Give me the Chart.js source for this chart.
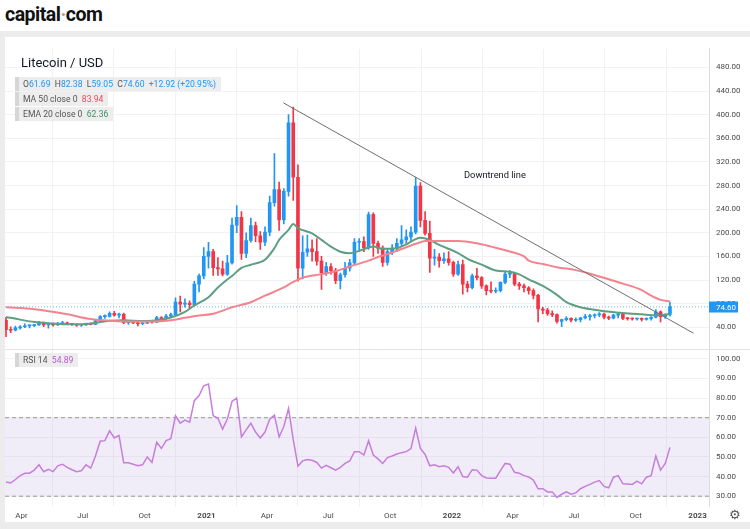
<!DOCTYPE html>
<html><head><meta charset="utf-8">
<script src="https://cdn.jsdelivr.net/npm/chart.js@4.4.1/dist/chart.umd.min.js"></script>
<style>
html,body{margin:0;padding:0;}
body{width:750px;height:529px;background:#ececec;position:relative;overflow:hidden;font-family:Roboto,"Noto Sans",sans-serif;}
#hdr{position:absolute;left:0;top:0;width:750px;height:31px;background:#fff;}
#logo{position:absolute;left:5px;top:3px;font-family:Roboto,sans-serif;font-weight:700;font-size:19.5px;color:#111;letter-spacing:-0.5px;}
#logo .d{color:#c89a6a;}
#panel{position:absolute;left:5px;top:37px;width:745px;height:485px;background:#fff;}
#panel canvas{position:absolute;left:0;top:0;}
.ov{position:absolute;white-space:nowrap;}
#title{left:21px;top:55px;font-size:13px;color:#131722;}
.row{position:absolute;left:15px;height:14px;background:rgba(236,236,236,0.92);border-left:4px solid #d6d6d6;font-size:8.6px;line-height:14px;color:#555;padding:0 5px 0 4px;white-space:nowrap;}
.b{color:#2196f3;}
#dt{left:464px;top:169px;font-size:9.3px;color:#131722;}
#gear{left:729px;top:507px;font-family:"DejaVu Sans";font-size:13px;color:#555;}
</style></head>
<body>
<div id="hdr"><div id="logo">capital<span class="d">·</span>com</div></div>
<div id="panel"><canvas id="c" width="745" height="485"></canvas></div>
<div class="ov" id="title">Litecoin / USD</div>
<div class="row" style="top:77px;">O<span class="b">61.69</span>&nbsp; H<span class="b">82.38</span>&nbsp; L<span class="b">59.05</span>&nbsp; C<span class="b">74.60</span>&nbsp; <span class="b">+12.92 (+20.95%)</span></div>
<div class="row" style="top:92px;">MA 50 close 0&nbsp; <span style="color:#ef4a5a">83.94</span></div>
<div class="row" style="top:107px;">EMA 20 close 0&nbsp; <span style="color:#3c8f69">62.36</span></div>
<div class="row" style="top:353px;">RSI 14&nbsp; <span style="color:#b55bd1">54.89</span></div>
<div class="ov" id="dt">Downtrend line</div>
<div class="ov" id="gear">⚙</div>
<script>
// ---- data (weekly candles, first week starting 2020-03-09) ----
const firstWeek = '2020-03-09';
const opens = [52,36,35,39,41,42.5,42.8,44,47.5,44,45.2,44,46.5,47.5,46,44.8,43.5,44,46.5,45,51,58,58.5,63.5,60.5,62,48,48.5,47.5,46,46.8,50,48.5,56.5,54.5,59,61.5,82.5,79,81,78.5,113,127,160,168,141,139,130,149,213,226,165,187,212,195,184,201,251,273,222,270,386,294,140,167,173,168,152,132,143,136,119,129,140,149,184,185,175,231,182,174,150,168,174,182,188,193,201,279,221,199,157,159,153,156,150,130,146,113,107,127,124,110,102,101,102,116,130,131,113,110,107,102,94,71,69,63,61.5,50,53,55,52,53,56,58,59.5,61,62.5,57,55.5,60.5,62,55,54.5,54,55,53.5,55,57,66,58,61.69];
const highs = [57,41,42,43,46,44,45,50,49,47,47,48.5,50,49,46.8,45.8,45,47,47,52,60,61,66,67,64,64,51,51,48.5,48,51,51.5,58.5,58,62,64,90,93,88,85,118,130,175,184,172,158,152,162,225,246,236,200,225,218,202,210,262,334,286,275,400,413,315,195,196,188,190,160,150,148,140,132,150,155,190,190,193,235,234,186,178,172,180,190,212,205,210,294,285,236,220,172,165,166,168,152,152,154,118,130,140,126,112,117,107,117,133,136,133,116,113,109,105,96,74,72,68,63,54,58,56,56,57,62,62,63,65,64,59,62,64,63,57,56,55.5,56,56,58,70,68,63,82.38];
const lows = [24,31,34,37,39.5,39,41,43,41,38.5,42,43,45.5,44.5,43,41.5,41.5,43,44,44.5,50,55,57,59,56,46,45,46,42.5,44.5,46,47,48,51,52.5,57,60.5,66,74,72,77,100,122,140,128,128,127,128,147,200,155,158,184,185,172,178,195,245,204,215,262,255,118,122,160,152,145,104,128,130,114,105,125,135,146,168,168,172,160,165,143,145,163,168,178,180,186,198,210,196,133,145,142,148,145,126,128,96,100,105,120,106,95,98,98,100,114,124,110,104,100,96,88,49,63,60,58,47,41,51,49,50,49,54,52,56,58,54,53,54,56,53,52,52,52,50.5,52,52,56,49,55,59.05];
const closes = [36,35,39,41,42.5,42.8,44,47.5,44,45.2,44,46.5,47.5,46,44.8,43.5,44,46.5,45,51,58,58.5,63.5,60.5,62,48,48.5,47.5,46,46.8,50,48.5,56.5,54.5,59,61.5,82.5,79,81,78.5,113,127,160,168,141,139,130,149,213,226,165,187,212,195,184,201,251,273,222,270,386,294,140,167,173,168,152,132,143,136,119,129,140,149,184,185,175,231,182,174,150,168,174,182,188,193,201,279,221,199,157,159,153,156,150,130,146,113,107,127,124,110,102,101,102,116,130,131,113,110,107,102,94,71,69,63,61.5,50,53,55,52,53,56,58,59.5,61,62.5,57,55.5,60.5,62,55,54.5,54,55,53.5,55,57,66,58,61.69,74.60];
// moving averages: [week index, value]
const ma50 = [[0,74],[6,70.5],[13,62],[18,54],[22,51],[25,50],[31,50],[35,52],[38,56],[41,60],[44,63],[48,74],[52,82.5],[55,93.5],[59,107.5],[61,117],[63,124],[67,130],[70,135],[73,143],[77,152.8],[79,159],[82,166.6],[85,175.6],[88,184],[89,186],[96,186],[100,182.2],[103,176.6],[107,168.3],[110,160],[111,152.8],[114,147.3],[117,141.7],[121,136.8],[124,130.7],[128,121.3],[131,114],[135,103],[137,93.5],[139,86.4],[141,83.94]];
const ema20 = [[0,57.6],[3,53],[6,49],[10,46.5],[13,45],[17,45.5],[19,47.6],[22,51],[25,52],[29,50.5],[31,51],[35,56.5],[38,66],[40,77],[43,91],[45,107.5],[47,121],[48,127],[50,140.6],[52,146],[55,154.5],[57,174],[58,188],[60,205],[61,215],[62,208],[65,199],[67,188],[69,176.6],[71,168],[73,165.5],[75,169.4],[77,175],[78,176.6],[80,172.8],[83,174],[85,180.5],[87,189.4],[88,191.6],[90,187.7],[92,179.4],[96,165.6],[98,156],[101,146],[104,136.2],[107,134],[109,129.6],[111,121.3],[114,110],[117,95],[119,82.5],[122,74],[126,68.6],[131,64.2],[135,62],[138,60.5],[140,61.1],[141,62.36]];
const rsi14 = [37.2,36.7,38.5,40.5,41.7,41.7,43.3,46,42.5,43.7,42.5,45.5,46.3,44.7,43.5,42.5,43,46,44.3,50.5,58,58.3,63.3,59.7,61,47,47,46.3,45.5,46,50,47.2,57.5,54.3,58.3,59.3,71,67.2,68.8,67.7,78.7,81.3,86.3,87.2,71,69.7,64.2,69.3,78.3,80,60.2,63.8,67.2,62.7,59.7,62.7,69.2,71.3,60.2,65.5,74.7,58.8,45.3,48,48.7,48.3,47.2,44.3,45.7,44.5,43.3,44.7,46.7,48,52.7,52.7,51,58.3,51,49,46.7,49.7,50.5,51.5,52.2,52.7,54.3,64.7,54.3,51.3,45.5,46,45,45.5,44.7,41.8,45,40,39.7,43.5,43.3,40.5,39.3,39.2,39.2,43,46.7,46.3,42.2,41.7,40.5,39.8,38.2,33.8,33.8,32.2,32.2,29.3,31,32.2,31,31.7,33.8,35,36,37.2,38,35,34.3,39.7,40.5,36.3,36.2,36,37.7,36.3,39.7,40.5,50.5,43.3,46.7,54.89];
// downtrend line endpoints [week index, price]
const trendLine = [[58.9,420],[146,30]];
const rsiLevels = [70,30];
const priceTicks = [40,80,120,160,200,240,280,320,360,400,440,480];
const rsiTicks = [30,40,50,60,70,80,90,100];
const tickDates = ['2020-04-01','2020-07-01','2020-10-01','2021-01-01','2021-04-01','2021-07-01','2021-10-01','2022-01-01','2022-04-01','2022-07-01','2022-10-01','2023-01-01'];
const tickLabels = ['Apr','Jul','Oct','2021','Apr','Jul','Oct','2022','Apr','Jul','Oct','2023'];

// ---- helpers ----
const WEEK = 7*86400000;
const t0 = Date.parse(firstWeek+'T00:00:00Z');
const weekPos = d => (Date.parse(d+'T00:00:00Z') - t0)/WEEK;
const tickPos = tickDates.map(weekPos);
const X_MIN = -0.212, X_MAX = 149.29;
const UP = '#2196f3', DOWN = '#f23645';
const colors = closes.map((c,i)=> c >= opens[i] ? UP : DOWN);
const lastClose = closes[closes.length-1];
const pts = arr => arr.map(p=>({x:p[0], y:p[1]}));

const overlay = {
  id:'overlay',
  afterDraw(chart){
    const {ctx, chartArea, scales} = chart;
    ctx.save();
    ctx.strokeStyle = '#e0e3eb'; ctx.lineWidth = 1;
    const sy = Math.round(scales.rsi.top)+0.5;
    ctx.beginPath(); ctx.moveTo(0, sy); ctx.lineTo(chart.width, sy); ctx.stroke();
    const py = Math.round(scales.y.getPixelForValue(lastClose));
    ctx.fillStyle = UP;
    ctx.fillRect(chartArea.right, py-5.5, 29, 11);
    ctx.fillStyle = '#fff'; ctx.font = '8px Roboto'; ctx.textBaseline = 'middle'; ctx.textAlign='left';
    ctx.fillText(lastClose.toFixed(2), chartArea.right+7, py+0.5);
    ctx.restore();
  }
};

const lineBase = {type:'line', pointRadius:0, fill:false};
const yTicks = {autoSkip:false, padding:7, color:'#4a4a4a', font:{family:'Roboto', size:8}, callback:v=>Number(v).toFixed(2)};
new Chart(document.getElementById('c'), {
  type:'bar',
  data:{datasets:[
    {...lineBase, data:pts(trendLine), borderColor:'#6f6f6f', borderWidth:1, tension:0},
    {...lineBase, data:pts(ma50), borderColor:'#f2838f', borderWidth:2, cubicInterpolationMode:'monotone'},
    {...lineBase, data:pts(ema20), borderColor:'#5e9e82', borderWidth:2, cubicInterpolationMode:'monotone'},
    {type:'bar', data:closes.map((c,i)=>({x:i, y:[opens[i], c]})), backgroundColor:colors, barThickness:3, grouped:false, minBarLength:1},
    {type:'bar', data:closes.map((c,i)=>({x:i, y:[lows[i], highs[i]]})), backgroundColor:colors, barThickness:1, grouped:false},
    {...lineBase, data:[{x:X_MIN,y:lastClose},{x:X_MAX,y:lastClose}], borderColor:'rgba(33,150,243,0.7)', borderWidth:1, borderDash:[1,2]},
    {...lineBase, yAxisID:'rsi', data:rsi14.map((v,i)=>({x:i,y:v})), borderColor:'#c77ddb', borderWidth:1.5, tension:0},
    {...lineBase, yAxisID:'rsi', data:[{x:X_MIN,y:rsiLevels[0]},{x:X_MAX,y:rsiLevels[0]}], borderColor:'#9a9a9a', borderWidth:1, borderDash:[4,3], fill:'+1', backgroundColor:'rgba(126,87,194,0.11)'},
    {...lineBase, yAxisID:'rsi', data:[{x:X_MIN,y:rsiLevels[1]},{x:X_MAX,y:rsiLevels[1]}], borderColor:'#9a9a9a', borderWidth:1, borderDash:[4,3]}
  ]},
  options:{
    responsive:false, animation:false, events:[],
    layout:{padding:{top:3,left:0,right:0,bottom:0}},
    plugins:{legend:{display:false}, tooltip:{enabled:false}},
    scales:{
      x:{type:'linear', min:X_MIN, max:X_MAX, offset:false,
        afterBuildTicks:s=>{ s.ticks = tickPos.map(v=>({value:v})); },
        afterFit:s=>{ s.height = 15; },
        ticks:{autoSkip:false, maxRotation:0, padding:4, color:'#4a4a4a',
          callback:(v,i)=>tickLabels[i],
          font:c=>({family:'Roboto', size:8, weight: /^\d{4}$/.test(tickLabels[c.index]) ? 'bold' : 'normal'})},
        grid:{color:'#f2f2f4', drawTicks:false}, border:{display:false}},
      y:{type:'linear', position:'right', stack:'panes', stackWeight:306, min:3.2, max:511.5,
        afterBuildTicks:s=>{ s.ticks = priceTicks.map(v=>({value:v})); },
        afterFit:s=>{ s.width = 41; },
        ticks:yTicks,
        grid:{color:'#f2f2f4', drawTicks:false}, border:{color:'#dcdcdc'}},
      rsi:{type:'linear', position:'right', stack:'panes', stackWeight:161, min:24.5, max:105,
        afterBuildTicks:s=>{ s.ticks = rsiTicks.map(v=>({value:v})); },
        afterFit:s=>{ s.width = 41; },
        ticks:yTicks,
        grid:{color:'#f2f2f4', drawTicks:false}, border:{color:'#dcdcdc'}}
    }
  },
  plugins:[overlay]
});
</script>
</body></html>
